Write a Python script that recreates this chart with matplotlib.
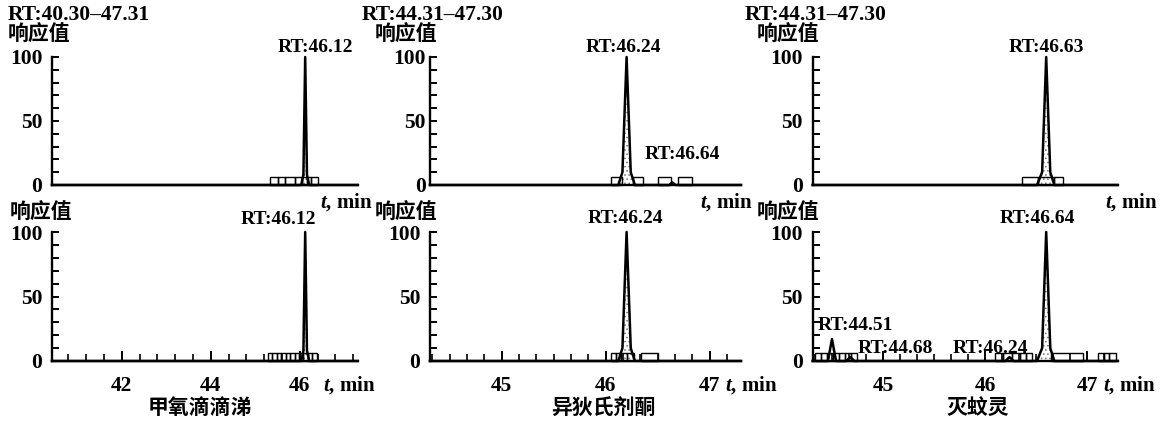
import matplotlib
matplotlib.use("Agg")
from matplotlib import pyplot as plt
from matplotlib.patches import Rectangle
from matplotlib.ticker import MultipleLocator, FixedLocator

W, H = 1164, 430
plt.rcParams['font.family'] = ['Liberation Serif', 'Noto Sans CJK SC']
plt.rcParams['mathtext.fontset'] = 'custom'
plt.rcParams['mathtext.it'] = 'Liberation Serif:italic:bold'
plt.rcParams['hatch.linewidth'] = 0.6

# ---- data ----
compounds = ['甲氧滴滴涕', '异狄氏剂酮', '灭蚊灵']
rt_ranges = ['RT:40.30–47.31', 'RT:44.31–47.30', 'RT:44.31–47.30']
x_ranges = [(40.43, 47.30), (44.31, 47.30), (44.31, 47.30)]
x_major = [[42, 44, 46], [45, 46, 47], [45, 46, 47]]
x_minor_step = [0.4, 1 / 6, 1 / 6]

# upper row (time, response %)
top_t = [
    [40.43, 46.03, 46.08, 46.12, 46.16, 46.21, 47.30],
    [44.31, 46.12, 46.16, 46.20, 46.24, 46.28, 46.61, 46.64, 46.67, 47.30],
    [44.31, 46.51, 46.56, 46.60, 46.64, 46.68, 47.30],
]
top_y = [
    [0, 0, 8, 100, 8, 0, 0],
    [0, 0, 10, 100, 10, 0, 0, 2, 0, 0],
    [0, 0, 10, 100, 10, 0, 0],
]
# lower row
bot_t = [
    [40.43, 46.03, 46.08, 46.12, 46.16, 46.21, 47.30],
    [44.31, 46.12, 46.16, 46.20, 46.24, 46.28, 47.30],
    [44.31, 44.46, 44.50, 44.54, 44.64, 44.68, 44.72, 46.20, 46.24, 46.28,
     46.51, 46.56, 46.60, 46.64, 46.68, 47.30],
]
bot_y = [
    [0, 0, 8, 100, 8, 0, 0],
    [0, 0, 10, 100, 10, 0, 0],
    [0, 0, 17, 0, 0, 3, 0, 0, 3, 0, 0, 10, 100, 10, 0, 0],
]

# integration boxes along the baseline (edges, min)
top_boxes = [
    [[45.34, 45.52, 45.67, 45.89, 46.04, 46.15, 46.26, 46.40]],
    [[46.05, 46.16], [46.26, 46.36], [46.50, 46.63], [46.69, 46.83]],
    [[46.36, 46.52, 46.68, 46.76]],
]
bot_boxes = [
    [[45.28, 45.38, 45.48, 45.58, 45.68, 45.78, 45.88, 45.98, 46.08, 46.18, 46.28, 46.38]],
    [[46.05, 46.10, 46.15, 46.20, 46.27], [46.34, 46.50]],
    [[44.33, 44.39, 44.45, 44.51, 44.57, 44.63, 44.69, 44.75],
     [46.10, 46.18, 46.26, 46.34, 46.40, 46.46], [46.65, 46.96],
     [47.11, 47.17, 47.22, 47.28]],
]
box_h = [6, 6]

# peak labels: text, x (min), baseline (%)
top_labels = [
    [('RT:46.12', 46.34, 104)],
    [('RT:46.24', 46.17, 104), ('RT:46.64', 46.74, 20)],
    [('RT:46.63', 46.60, 104)],
]
bot_labels = [
    [('RT:46.12', 45.51, 106)],
    [('RT:46.24', 46.19, 107)],
    [('RT:46.64', 46.51, 107), ('RT:44.51', 44.73, 24),
     ('RT:44.68', 45.12, 6), ('RT:46.24', 46.05, 6)],
]

# ---- layout (pixels) ----
ax_left = [52, 430, 812.6]
ax_width = [305.7, 311, 305]
rows = [(185, 57), (361, 232)]   # (y of 0, y of 100)
ypad = [[7, 3, 7], [7, 7, 7]]

fig = plt.figure(figsize=(W / 100, H / 100), dpi=100)
fs = 15.5


def fx(px):
    return px / W


def fy(py):
    return 1 - py / H


for r in range(2):
    y0, y1 = rows[r]
    for c in range(3):
        ax = fig.add_axes([fx(ax_left[c]), fy(y0), fx(ax_width[c]), (y0 - y1) / H])
        t = top_t[c] if r == 0 else bot_t[c]
        y = top_y[c] if r == 0 else bot_y[c]
        ax.fill_between(t, y, 0, facecolor='none', edgecolor='0.45', hatch='....', lw=0)
        ax.plot(t, y, color='k', lw=1.8, clip_on=False)
        boxes = top_boxes[c] if r == 0 else bot_boxes[c]
        for edges in boxes:
            for a, b in zip(edges[:-1], edges[1:]):
                ax.add_patch(Rectangle((a, 0), b - a, box_h[r], fill=False,
                                       ec='k', lw=1.0, clip_on=False))
        ax.set_xlim(*x_ranges[c])
        ax.set_ylim(0, 100)
        for s in ['top', 'right']:
            ax.spines[s].set_visible(False)
        for s in ['left', 'bottom']:
            ax.spines[s].set_linewidth(1.7)
        ax.yaxis.set_major_locator(FixedLocator([0, 50, 100]))
        ax.yaxis.set_minor_locator(MultipleLocator(10))
        ax.tick_params(axis='y', which='both', direction='in', length=5, width=1.4,
                       pad=ypad[r][c], labelsize=fs)
        for lab in ax.get_yticklabels():
            lab.set_fontweight('bold')
        if r == 0:
            ax.set_xticks([])
        else:
            ax.xaxis.set_major_locator(FixedLocator(x_major[c]))
            ax.xaxis.set_minor_locator(MultipleLocator(x_minor_step[c]))
            ax.tick_params(axis='x', which='major', direction='in', length=7, width=1.4,
                           pad=11, labelsize=fs)
            ax.tick_params(axis='x', which='minor', direction='in', length=5, width=1.2)
            for lab in ax.get_xticklabels():
                lab.set_fontweight('bold')
        labels = top_labels[c] if r == 0 else bot_labels[c]
        for txt, lx, ly in labels:
            ax.text(lx, ly, txt, ha='center', va='baseline', fontsize=14,
                    fontweight='bold', clip_on=False)

# headers and axis titles
hdr_x = [8, 362, 745]
resp_x = [[8, 375, 757], [10, 375, 757]]
tmin_top = [320, 700, 1105]
tmin_bot = [323, 725, 1103]
name_x = [200, 603, 978]
for c in range(3):
    fig.text(fx(hdr_x[c]), fy(20), rt_ranges[c], fontsize=fs, fontweight='bold',
             va='baseline')
    fig.text(fx(resp_x[0][c]), fy(41), '响应值', fontsize=15, fontweight='bold',
             family='Noto Sans CJK SC', va='baseline')
    fig.text(fx(resp_x[1][c]), fy(219), '响应值', fontsize=15, fontweight='bold',
             family='Noto Sans CJK SC', va='baseline')
    fig.text(fx(tmin_top[c]), fy(208), r'$\mathit{t}$, min', fontsize=15,
             fontweight='bold', va='baseline')
    fig.text(fx(tmin_bot[c]), fy(391), r'$\mathit{t}$, min', fontsize=15,
             fontweight='bold', va='baseline')
    fig.text(fx(name_x[c]), fy(407), compounds[c], fontsize=15, fontweight='bold',
             family='Noto Sans CJK SC', ha='center', va='center')

fig.savefig('out.png', dpi=100)
